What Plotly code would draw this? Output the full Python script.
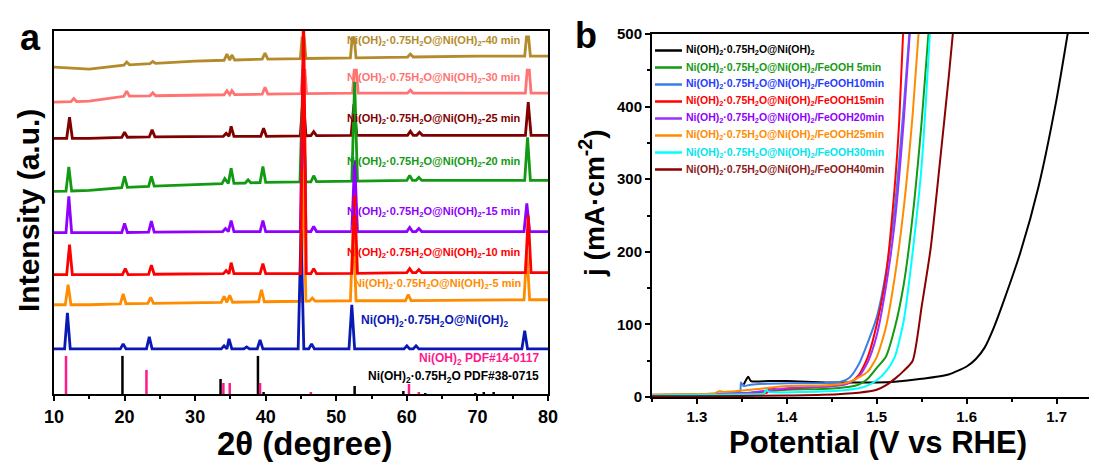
import numpy as np
import plotly.graph_objects as go

OFF = 8                      # page body margin of the written html
W, H = 1097 - OFF, 472 - OFF
FONT = "Arial, Liberation Sans, sans-serif"

# ---------------- Panel a : XRD data (intensity in a.u., offset stacked) ----------------
theta_anchor = [10, 15, 20, 30, 40, 50, 60, 70, 80]

gold_base = [326, 324, 328, 332, 334, 335, 336, 337, 337]
gold_peak_pos = [20.3, 24.0, 34.5, 35.2, 39.9, 60.5]
gold_peak_h = [3, 2, 6, 5, 6, 3]
gold_flat_pos = [45.3, 52.4, 77.1]
gold_flat_top = [355, 355, 356]

pink_base = [291, 292, 297, 298, 299, 300, 300, 300, 300]
pink_peak_pos = [12.8, 20.3, 24.0, 34.5, 35.2, 39.9, 60.5]
pink_peak_h = [3, 5, 3, 4, 4, 7, 3]
pink_flat_pos = [45.4, 52.7, 77.2]
pink_flat_top = [323, 323, 323]

dred_base = [255, 255, 256, 257, 257, 258, 258, 258, 258]
dred_peak_pos = [12.2, 20.0, 23.9, 34.4, 35.1, 39.7, 45.3, 46.8, 52.5, 60.5, 61.8, 77.2]
dred_peak_h = [21, 5, 7, 3, 10, 8, 39, 4, 31, 4, 3, 33]

green_base = [202, 203, 206, 209, 211, 212, 213, 213, 213]
green_peak_pos = [12.1, 20.0, 23.8, 34.2, 35.1, 37.5, 39.6, 45.25, 46.8, 52.6, 60.4, 61.7, 77.1]
green_peak_h = [24, 11, 10, 5, 15, 3, 16, 97, 6, 99, 5, 3, 43]

purple_base = [161, 161, 161, 162, 162, 162, 162, 162, 162]
purple_peak_pos = [12.1, 20.0, 23.8, 34.3, 35.1, 39.6, 45.3, 46.8, 52.6, 60.4, 61.7, 77.0]
purple_peak_h = [36, 9, 11, 3, 11, 11, 166, 5, 71, 4, 3, 28]

red_base = [119, 119, 119, 120, 120, 120, 121, 121, 121]
red_peak_pos = [12.2, 20.1, 23.8, 34.4, 35.1, 39.6, 45.35, 46.8, 52.6, 60.4, 61.7, 77.2]
red_peak_h = [30, 6, 9, 3, 11, 10, 270, 5, 78, 4, 3, 57]

orange_base = [89, 89, 90, 91, 92, 93, 93, 94, 94]
orange_peak_pos = [12.0, 19.8, 23.7, 34.1, 34.9, 39.4, 45.3, 46.6, 52.4, 60.2, 77.0]
orange_peak_h = [20, 10, 6, 6, 7, 12, 131, 3, 76, 6, 49]

blue_base = [45, 45, 45, 45, 45, 45, 45, 45, 45]
blue_peak_pos = [11.9, 19.8, 23.5, 34.1, 34.8, 37.3, 39.2, 45.0, 46.5, 52.2, 60.0, 61.3, 76.7]
blue_peak_h = [36, 5, 12, 3, 10, 2, 9, 118, 5, 44, 3, 3, 18]

# reference patterns (stick heights)
pdf14_pos = [11.7, 23.1, 34.0, 34.9, 39.2, 46.4, 60.3, 61.7]
pdf14_h = [38, 24, 11, 11, 11, 2, 10, 2]
pdf38_pos = [19.7, 33.6, 38.9, 39.7, 52.6, 59.5, 62.6, 69.7, 70.9, 72.3]
pdf38_h = [38, 15, 38, 2, 8, 3, 1, 1, 2, 2]

xrd_labels = ["Ni(OH)<sub>2</sub>·0.75H<sub>2</sub>O@Ni(OH)<sub>2</sub>-40 min",
              "Ni(OH)<sub>2</sub>·0.75H<sub>2</sub>O@Ni(OH)<sub>2</sub>-30 min",
              "Ni(OH)<sub>2</sub>·0.75H<sub>2</sub>O@Ni(OH)<sub>2</sub>-25 min",
              "Ni(OH)<sub>2</sub>·0.75H<sub>2</sub>O@Ni(OH)<sub>2</sub>-20 min",
              "Ni(OH)<sub>2</sub>·0.75H<sub>2</sub>O@Ni(OH)<sub>2</sub>-15 min",
              "Ni(OH)<sub>2</sub>·0.75H<sub>2</sub>O@Ni(OH)<sub>2</sub>-10 min",
              "Ni(OH)<sub>2</sub>·0.75H<sub>2</sub>O@Ni(OH)<sub>2</sub>-5 min",
              "Ni(OH)<sub>2</sub>·0.75H<sub>2</sub>O@Ni(OH)<sub>2</sub>"]
xrd_label_y = [352, 315, 274, 231, 181, 141, 110, 73]

# ---------------- Panel b : LSV data ----------------
lsv_names = ["Ni(OH)<sub>2</sub>·0.75H<sub>2</sub>O@Ni(OH)<sub>2</sub>",
             "Ni(OH)<sub>2</sub>·0.75H<sub>2</sub>O@Ni(OH)<sub>2</sub>/FeOOH 5min",
             "Ni(OH)<sub>2</sub>·0.75H<sub>2</sub>O@Ni(OH)<sub>2</sub>/FeOOH10min",
             "Ni(OH)<sub>2</sub>·0.75H<sub>2</sub>O@Ni(OH)<sub>2</sub>/FeOOH15min",
             "Ni(OH)<sub>2</sub>·0.75H<sub>2</sub>O@Ni(OH)<sub>2</sub>/FeOOH20min",
             "Ni(OH)<sub>2</sub>·0.75H<sub>2</sub>O@Ni(OH)<sub>2</sub>/FeOOH25min",
             "Ni(OH)<sub>2</sub>·0.75H<sub>2</sub>O@Ni(OH)<sub>2</sub>/FeOOH30min",
             "Ni(OH)<sub>2</sub>·0.75H<sub>2</sub>O@Ni(OH)<sub>2</sub>/FeOOH40min"]

v_black = [1.352, 1.354, 1.357, 1.360, 1.38, 1.40, 1.45, 1.50, 1.52, 1.55, 1.58, 1.60, 1.61, 1.62, 1.63,
           1.64, 1.66, 1.68, 1.70, 1.715]
j_black = [17, 22, 28, 22, 22, 22, 20, 20, 21, 25, 31, 42, 52, 68, 95, 128, 200, 290, 410, 520]

v_5 = [1.25, 1.30, 1.36, 1.40, 1.44, 1.47, 1.48, 1.49, 1.50, 1.51, 1.52, 1.53, 1.54, 1.55, 1.56]
j_5 = [2, 3, 6, 10, 11, 14, 17, 25, 40, 55, 95, 155, 250, 380, 540]

v_10 = [1.25, 1.30, 1.34, 1.348, 1.349, 1.352, 1.36, 1.40, 1.44, 1.46, 1.47, 1.48, 1.49, 1.50, 1.51, 1.52, 1.53, 1.54]
j_10 = [3, 4, 6, 8, 20, 15, 17, 19, 19, 21, 27, 45, 75, 110, 170, 260, 400, 560]

v_15 = [1.25, 1.30, 1.37, 1.378, 1.381, 1.39, 1.42, 1.45, 1.47, 1.48, 1.49, 1.50, 1.51, 1.52, 1.525, 1.53]
j_15 = [2, 3, 5, 6, 12, 10, 13, 15, 20, 30, 55, 100, 165, 290, 380, 520]

v_20 = [1.25, 1.30, 1.36, 1.40, 1.44, 1.46, 1.47, 1.48, 1.49, 1.50, 1.51, 1.52, 1.53, 1.54]
j_20 = [2, 3, 6, 12, 14, 16, 20, 28, 48, 85, 150, 240, 380, 560]

v_25 = [1.25, 1.30, 1.32, 1.325, 1.33, 1.36, 1.40, 1.44, 1.46, 1.47, 1.48, 1.49, 1.50, 1.51, 1.52, 1.53, 1.54, 1.55]
j_25 = [3, 4, 5, 8, 7, 10, 15, 16, 18, 21, 27, 35, 55, 95, 165, 260, 390, 560]

v_30 = [1.25, 1.30, 1.37, 1.375, 1.377, 1.38, 1.42, 1.46, 1.48, 1.49, 1.50, 1.51, 1.52, 1.53, 1.54, 1.55, 1.56]
j_30 = [2, 3, 4, 5, 10, 7, 7, 9, 12, 16, 23, 35, 55, 105, 200, 320, 520]

v_40 = [1.25, 1.30, 1.40, 1.44, 1.48, 1.50, 1.51, 1.52, 1.53, 1.54, 1.55, 1.56, 1.57, 1.58, 1.59]
j_40 = [1, 1, 2, 3, 6, 10, 16, 25, 36, 50, 125, 205, 320, 440, 570]

# ---------------- styles ----------------
XRD_COLORS = ["#b38b2a", "#ff7373", "#800000", "#139a13", "#8f00ff", "#ff0000", "#ff8c00", "#0a18b4"]
LSV_LINE = ["#000000", "#139a13", "#3a7fe6", "#ff0000", "#9b30ff", "#ff8c00", "#00ffff", "#8b0000"]
LSV_TEXT = ["#000000", "#139a13", "#1f3cff", "#ff0000", "#8f00ff", "#ff8c00", "#00e5ee", "#8b1a1a"]
HW = 0.4   # half width of peak triangles (deg)


def xrd_profile(base, pk_pos, pk_h, flat_pos=(), flat_top=()):
    wins = [(p - HW, p + HW) for p in list(pk_pos) + list(flat_pos)]
    pts = [(x, y) for x, y in zip(theta_anchor, base)
           if not any(a <= x <= b for a, b in wins)]
    for p, h in zip(pk_pos, pk_h):
        pts += [(p - HW, np.interp(p - HW, theta_anchor, base)),
                (p, np.interp(p, theta_anchor, base) + h),
                (p + HW, np.interp(p + HW, theta_anchor, base))]
    for p, t in zip(flat_pos, flat_top):
        pts += [(p - HW, np.interp(p - HW, theta_anchor, base)),
                (p - 0.15, t), (p + 0.15, t),
                (p + HW, np.interp(p + HW, theta_anchor, base))]
    pts.sort()
    return [q[0] for q in pts], [q[1] for q in pts]


fig = go.Figure()

xrd_sets = [
    (gold_base, gold_peak_pos, gold_peak_h, gold_flat_pos, gold_flat_top),
    (pink_base, pink_peak_pos, pink_peak_h, pink_flat_pos, pink_flat_top),
    (dred_base, dred_peak_pos, dred_peak_h, (), ()),
    (green_base, green_peak_pos, green_peak_h, (), ()),
    (purple_base, purple_peak_pos, purple_peak_h, (), ()),
    (red_base, red_peak_pos, red_peak_h, (), ()),
    (orange_base, orange_peak_pos, orange_peak_h, (), ()),
    (blue_base, blue_peak_pos, blue_peak_h, (), ()),
]
draw_order = [0, 1, 2, 3, 4, 6, 7, 5]
for i in draw_order:
    xs, ys = xrd_profile(*xrd_sets[i])
    fig.add_trace(go.Scatter(x=xs, y=ys, mode="lines", line=dict(color=XRD_COLORS[i], width=2.8),
                             showlegend=False, xaxis="x", yaxis="y", hoverinfo="skip"))


def sticks(pos, h):
    xs, ys = [], []
    for p, v in zip(pos, h):
        xs += [p, p, None]
        ys += [0, v, None]
    return xs, ys


sx, sy = sticks(pdf38_pos, pdf38_h)
fig.add_trace(go.Scatter(x=sx, y=sy, mode="lines", line=dict(color="black", width=2.5),
                         showlegend=False, xaxis="x", yaxis="y"))
sx, sy = sticks(pdf14_pos, pdf14_h)
fig.add_trace(go.Scatter(x=sx, y=sy, mode="lines", line=dict(color="#ff1a8c", width=2.5),
                         showlegend=False, xaxis="x", yaxis="y"))

lsv = [(v_black, j_black), (v_5, j_5), (v_10, j_10), (v_15, j_15), (v_20, j_20),
       (v_25, j_25), (v_30, j_30), (v_40, j_40)]
for i, (v, j) in enumerate(lsv):
    fig.add_trace(go.Scatter(x=v, y=j, mode="lines", line=dict(color=LSV_LINE[i], width=2, shape="spline",
                                                               smoothing=0.6),
                             showlegend=False, xaxis="x2", yaxis="y2"))


def px(x):
    """page pixel x -> figure fraction"""
    return (x - OFF) / W


def py(y):
    """page pixel y -> figure fraction (from bottom)"""
    return 1 - (y - OFF) / H


ann = []
# XRD labels
for k, (txt, yv) in enumerate(zip(xrd_labels, xrd_label_y)):
    big = k == 7
    ann.append(dict(x=76.4 if not big else 74.6, y=yv, xref="x", yref="y", text=txt,
                    showarrow=False, xanchor="right", yanchor="middle",
                    font=dict(family=FONT, size=12 if big else 11, color=XRD_COLORS[k], weight="bold")))
ann.append(dict(x=79.0, y=35, xref="x", yref="y", text="Ni(OH)<sub>2</sub> PDF#14-0117",
                showarrow=False, xanchor="right", yanchor="middle",
                font=dict(family=FONT, size=12, color="#ff1a8c", weight="bold")))
ann.append(dict(x=79.0, y=17, xref="x", yref="y", text="Ni(OH)<sub>2</sub>·0.75H<sub>2</sub>O PDF#38-0715",
                showarrow=False, xanchor="right", yanchor="middle",
                font=dict(family=FONT, size=12, color="black", weight="bold")))

# legend of panel b (manual)
shapes = []
leg_y0, leg_dy = 50.5, 17.0
for k, name in enumerate(lsv_names):
    yy = leg_y0 + k * leg_dy
    shapes.append(dict(type="line", xref="paper", yref="paper", x0=px(655), x1=px(682),
                       y0=py(yy), y1=py(yy), line=dict(color=LSV_LINE[k], width=2.5)))
    ann.append(dict(x=px(684), y=py(yy), xref="paper", yref="paper", text=name, showarrow=False,
                    xanchor="left", yanchor="middle",
                    font=dict(family=FONT, size=10.5, color=LSV_TEXT[k], weight="bold")))

# axis titles and panel letters
ann += [
    dict(x=px(28), y=py(211), text="Intensity (a.u.)", textangle=-90,
         font=dict(family=FONT, size=30, color="black", weight="bold")),
    dict(x=px(305), y=py(443), text="2θ (degree)",
         font=dict(family=FONT, size=33, color="black", weight="bold")),
    dict(x=px(592), y=py(203), text="j (mA·cm<sup>-2</sup>)", textangle=-90,
         font=dict(family=FONT, size=28, color="black", weight="bold")),
    dict(x=px(878), y=py(442), text="Potential (V vs RHE)",
         font=dict(family=FONT, size=31, color="black", weight="bold")),
    dict(x=px(30), y=py(37), text="a",
         font=dict(family=FONT, size=36, color="black", weight="bold")),
    dict(x=px(586), y=py(36), text="b",
         font=dict(family=FONT, size=36, color="black", weight="bold")),
]
for a in ann[-6:]:
    a.update(xref="paper", yref="paper", showarrow=False, xanchor="center", yanchor="middle")

axis_common = dict(showgrid=False, zeroline=False, showline=True, linecolor="black", linewidth=2,
                   ticks="outside", tickcolor="black", tickwidth=2, automargin=False)

fig.update_layout(
    width=W, height=H, margin=dict(l=0, r=0, t=0, b=0, pad=0, autoexpand=False),
    paper_bgcolor="white", plot_bgcolor="white", showlegend=False,
    xaxis=dict(domain=[px(54), px(548)], range=[10, 80], anchor="y", tickmode="linear", tick0=10, dtick=10,
               ticklen=5, mirror=True,
               minor=dict(ticks="outside", dtick=5, tick0=0, ticklen=3, tickwidth=2, tickcolor="black"),
               tickfont=dict(family=FONT, size=18, color="black", weight="bold"), **axis_common),
    yaxis=dict(domain=[py(394), py(31)], range=[0, 362], anchor="x", showticklabels=False,
               mirror=True, **{**axis_common, "ticks": ""}),
    xaxis2=dict(domain=[px(652), 1.0], range=[1.25, 1.745], anchor="y2", tickmode="linear", tick0=1.3,
                dtick=0.1, ticklen=5, mirror=True, tickformat=".1f",
                minor=dict(ticks="outside", dtick=0.05, tick0=1.25, ticklen=3, tickwidth=2, tickcolor="black"),
                tickfont=dict(family=FONT, size=15, color="black", weight="bold"), **axis_common),
    yaxis2=dict(domain=[py(397), py(34)], range=[0, 500], anchor="x2", tickmode="linear", tick0=0,
                dtick=100, ticklen=5,
                minor=dict(ticks="outside", dtick=50, tick0=0, ticklen=3, tickwidth=2, tickcolor="black"),
                tickfont=dict(family=FONT, size=15, color="black", weight="bold"), **axis_common),
    annotations=ann, shapes=shapes,
)

fig.write_html("out.html")
